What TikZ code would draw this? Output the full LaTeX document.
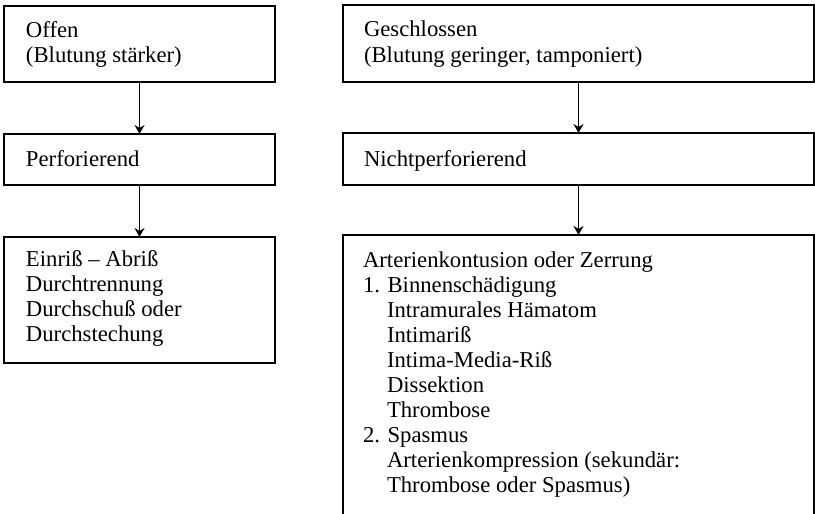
\documentclass[tikz,border=0pt]{standalone}
\usepackage{fontspec}
\setmainfont{Liberation Serif}
\usetikzlibrary{arrows.meta}
\begin{document}
\begin{tikzpicture}[x=1pt,y=-1pt,
  box/.style={draw, line width=1.4pt, rectangle, inner sep=0pt, outer sep=0pt, anchor=north west},
  txt/.style={anchor=base west, inner sep=0pt, outer sep=0pt, font=\fontsize{22.7}{25}\selectfont},
  conn/.style={line width=1.3pt, -{Stealth[length=9pt,width=10pt,inset=3pt]}}]
\useasboundingbox (0,0) rectangle (815,514);
\begin{scope}
\clip (0,0) rectangle (815,514);
% left column
\node[box, minimum width=271pt, minimum height=76pt] (b1) at (4,6) {};
\node[box, minimum width=271pt, minimum height=51pt] (b2) at (4,134) {};
\node[box, minimum width=271pt, minimum height=126pt] (b3) at (4,237) {};
% right column
\node[box, minimum width=471pt, minimum height=77pt] (b4) at (343,5) {};
\node[box, minimum width=471pt, minimum height=52pt] (b5) at (343,133) {};
\node[box, minimum width=471pt, minimum height=300pt] (b6) at (343,235) {};
% connectors
\draw[conn] (b1.south) -- (b2.north);
\draw[conn] (b2.south) -- (b3.north);
\draw[conn] (b4.south) -- (b5.north);
\draw[conn] (b5.south) -- (b6.north);
% texts left
\node[txt] (t11) at (26,37) {Offen};
\node[txt] (t12) at (26,62) {(Blutung stärker)};
\node[txt] (t21) at (26,166) {Perforierend};
\node[txt] (t31) at (26,266) {Einriß – Abriß};
\node[txt] (t32) at (26,291) {Durchtrennung};
\node[txt] (t33) at (26,316) {Durchschuß oder};
\node[txt] (t34) at (26,341) {Durchstechung};
% texts right
\node[txt] (t41) at (364,36) {Geschlossen};
\node[txt] (t42) at (364,62) {(Blutung geringer, tamponiert)};
\node[txt] (t51) at (364,166) {Nichtperforierend};
\node[txt] (t60) at (363,267) {Arterienkontusion oder Zerrung};
\node[txt] (t61) at (363,292) {1. Binnenschädigung};
\node[txt] (t62) at (387,317) {Intramurales Hämatom};
\node[txt] (t63) at (387,342) {Intimariß};
\node[txt] (t64) at (387,367) {Intima-Media-Riß};
\node[txt] (t65) at (387,392) {Dissektion};
\node[txt] (t66) at (387,417) {Thrombose};
\node[txt] (t67) at (363,442) {2. Spasmus};
\node[txt] (t68) at (387,467) {Arterienkompression (sekundär:};
\node[txt] (t69) at (387,492) {Thrombose oder Spasmus)};
\end{scope}
\end{tikzpicture}
\end{document}
